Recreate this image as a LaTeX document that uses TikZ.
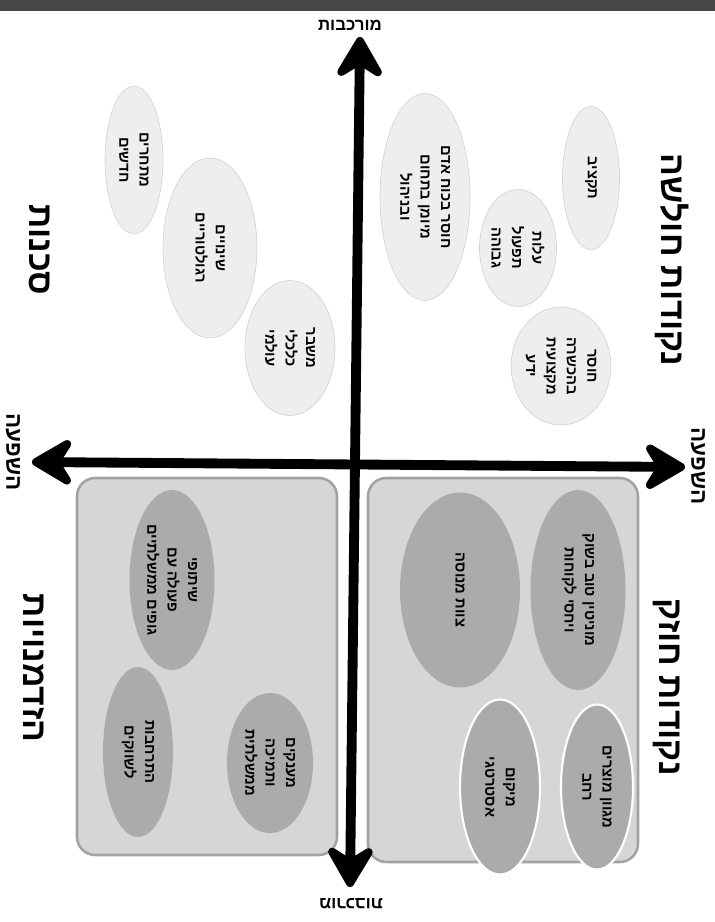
\documentclass[tikz,border=0pt]{standalone}
\usepackage{fontspec}
\usetikzlibrary{arrows.meta, positioning, shapes.geometric}
\newfontfamily\hebfont[Script=Hebrew]{Liberation Sans}
\TeXXeTstate=1
\newcommand{\heb}[1]{\beginR #1\endR}
\definecolor{blobfaint}{HTML}{EEEEEE}
\definecolor{blobedge}{HTML}{CFCFCF}
\definecolor{boxfill}{HTML}{D6D6D6}
\definecolor{boxedge}{HTML}{A2A2A2}
\definecolor{blobdark}{HTML}{ABABAB}

\begin{document}
\begin{tikzpicture}[x=0.025cm, y=-0.025cm, font=\hebfont,
  axisline/.style={line width=7pt, {Stealth[length=36pt, width=42pt, inset=13pt, round]}-{Stealth[length=36pt, width=42pt, inset=13pt, round]}},
  quadbox/.style={fill=boxfill, draw=boxedge, line width=1.8pt, rounded corners=13pt},
  blobsize/.style 2 args={minimum width=#1*0.025cm, minimum height=#2*0.025cm},
  topblob/.style={ellipse, fill=blobfaint, draw=blobedge, inner sep=0pt, rotate=-90, align=center,
    font=\hebfont\bfseries\fontsize{10.5}{14.5}\selectfont},
  botblob/.style={topblob, fill=blobdark, draw=none},
  quadtitle/.style={rotate=-90, font=\hebfont\bfseries\fontsize{24}{28}\selectfont},
  axislabel/.style={font=\hebfont\bfseries\fontsize{12}{14}\selectfont},
  sidelabel/.style={rotate=-90, font=\hebfont\bfseries\fontsize{16}{18}\selectfont}]
  \useasboundingbox (0,0) rectangle (715,922);
  % scan edge
  \fill[black!72] (0,0) rectangle (715,11);
  % shaded quadrants
  \draw[quadbox] (77,478) rectangle (337,855);
  \draw[quadbox] (368,478) rectangle (638,862);
  % axes
  \coordinate (vbot) at (350,887);
  \coordinate (vtop) at (360,37);
  \coordinate (hleft) at (32,462);
  \coordinate (hright) at (685,467);
  \draw[axisline] (vbot) -- (vtop);
  \draw[axisline] (hleft) -- (hright);
  \node[axislabel] (cplxtop) at (350,25) {\heb{מורכבות}};
  \node[axislabel, rotate=180] (cplxbot) at (351,904) {\heb{מורכבות}};
  \node[sidelabel] (inflleft) at (13,452) {\heb{השפעה}};
  \node[sidelabel] (inflright) at (698,466) {\heb{השפעה}};
  % quadrant titles
  \node[quadtitle] (threats) at (40,250) {\heb{סכנות}};
  \node[quadtitle] (weak) at (672,260) {\heb{נקודות חולשה}};
  \node[quadtitle] (strong) at (667,687) {\heb{נקודות חוזק}};
  \node[quadtitle] (opps) at (34,668) {\heb{הזדמנויות}};
  % threats
  \node[topblob, blobsize={148}{58}] (thrA) at (134,160) {\heb{מתחרים}\\\heb{חדשים}};
  \node[topblob, blobsize={180}{94}] (thrB) at (210,248) {\heb{שינויים}\\\heb{רגולטוריים}};
  \node[topblob, blobsize={135}{90}] (thrC) at (290,348) {\heb{משבר}\\\heb{כלכלי}\\\heb{עולמי}};
  % weaknesses
  \node[topblob, blobsize={207}{90}] (wkD) at (425,197) {\heb{חוסר בכוח אדם}\\\heb{מיומן בתחום}\\\heb{ובניהול}};
  \node[topblob, blobsize={117}{77}] (wkE) at (518,248) {\heb{עלות}\\\heb{תפעול}\\\heb{גבוהה}};
  \node[topblob, blobsize={143}{57}] (wkF) at (591,178) {\heb{תקציב}};
  \node[topblob, blobsize={118}{80}] (wkG) at (561,366) {\heb{חוסר}\\\heb{בהכשרה}\\\heb{מקצועית}\\\heb{ידע}};
  % strengths
  \node[botblob, blobsize={195}{120}] (stA) at (460,590) {\heb{צוות מנוסה}};
  \node[botblob, blobsize={200}{95}] (stB) at (578,590) {\heb{מוניטין טוב בשוק}\\\heb{ויחסי לקוחות}};
  \node[botblob, draw=white, line width=1.5pt, blobsize={175}{80}] (stC) at (500,787) {\heb{מיקום}\\\heb{אסטרטגי}};
  \node[botblob, draw=white, line width=1.5pt, blobsize={165}{72}] (stD) at (597,787) {\heb{מגוון מוצרים}\\\heb{רחב}};
  % opportunities
  \node[botblob, blobsize={180}{85}] (opA) at (172,580) {\heb{שיתופי}\\\heb{פעולה עם}\\\heb{גופים ממשלתיים}};
  \node[botblob, blobsize={170}{70}] (opB) at (138,752) {\heb{התרחבות}\\\heb{לשווקים}};
  \node[botblob, blobsize={140}{86}] (opC) at (270,763) {\heb{מענקים}\\\heb{ותמיכה}\\\heb{ממשלתית}};
\end{tikzpicture}
\end{document}
